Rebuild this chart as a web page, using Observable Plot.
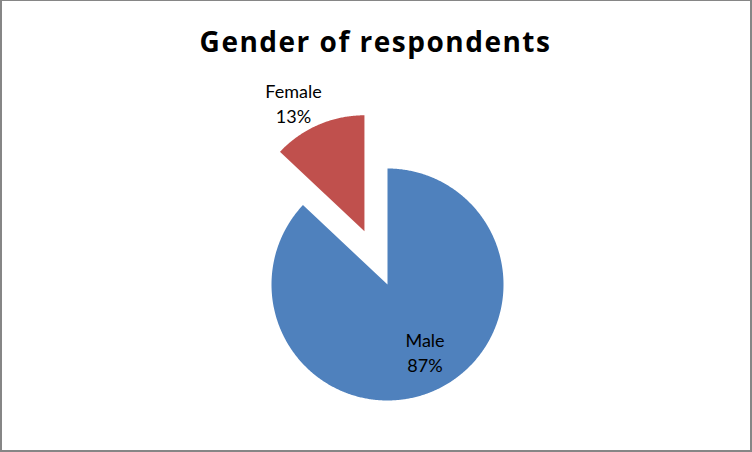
<!DOCTYPE html>
<html><head><meta charset="utf-8">
<script src="https://cdn.jsdelivr.net/npm/d3@7"></script>
<script src="https://cdn.jsdelivr.net/npm/@observablehq/plot@0.6"></script>
<style>
body{margin:0;background:#fff;}
#chart{width:752px;height:452px;box-sizing:border-box;border-style:solid;border-color:#868686;border-width:1px 2px 2px 2px;overflow:hidden;background:#fff;}
#chart svg{display:block;}
</style></head><body><div id="chart"></div>
<script>
const categories = ["Male", "Female"];
const values = [87, 13];
const colors = ["#4F81BD", "#C0504D"];
const title = "Gender of respondents";

// layout (pixels / unit-radius factors)
const W = 748, H = 449;
const cx = 385, cy = 283, R = 116;
const explode = [0, 0.5];
const labelRadial = [0.671, 1.248];
const labelTangent = [-0.062, -0.127];

const total = d3.sum(values);
let acc = 0;
const slices = categories.map((c, i) => {
  const a0 = acc / total * 2 * Math.PI; acc += values[i];
  const a1 = acc / total * 2 * Math.PI;
  return {c, i, a0, a1, mid: (a0 + a1) / 2, v: values[i]};
});
const pts = [];
const labels = [];
slices.forEach(s => {
  const ox = explode[s.i] * Math.sin(s.mid), oy = explode[s.i] * Math.cos(s.mid);
  pts.push({c: s.c, x: ox, y: oy});
  const n = Math.max(2, Math.ceil((s.a1 - s.a0) / (Math.PI / 360)));
  for (let k = 0; k <= n; k++) {
    const a = s.a0 + (s.a1 - s.a0) * k / n;
    pts.push({c: s.c, x: ox + Math.sin(a), y: oy + Math.cos(a)});
  }
  pts.push({c: s.c, x: ox, y: oy});
  const dx = Math.sin(s.mid), dy = Math.cos(s.mid);
  const px = Math.cos(s.mid), py = -Math.sin(s.mid);
  labels.push({
    c: s.c,
    text: `${s.c}\n${s.v}%`,
    x: ox + dx * labelRadial[s.i] + px * labelTangent[s.i],
    y: oy + dy * labelRadial[s.i] + py * labelTangent[s.i]
  });
});

const chart = Plot.plot({
  width: W, height: H,
  margin: 0,
  x: {domain: [-cx / R, (W - cx) / R], range: [0, W], axis: null},
  y: {domain: [-(H - cy) / R, cy / R], range: [H, 0], axis: null},
  color: {domain: categories, range: colors},
  style: {fontFamily: "Lato, sans-serif", background: "#fff"},
  marks: [
    Plot.line(pts, {x: "x", y: "y", z: "c", fill: "c", stroke: null, curve: "linear"}),
    Plot.text(labels, {x: "x", y: "y", dy: -2, text: "text", fontSize: 18, lineHeight: 1.4, lineAnchor: "middle", fill: "#000"}),
    Plot.text([title], {frameAnchor: "top", dx: -1, dy: 50, lineAnchor: "bottom", fontSize: 28, fontWeight: "bold", fill: "#000"})
  ]
});
d3.select(chart).selectAll("text").filter(function() { return this.textContent === title; })
  .style("font-family", "'Open Sans', sans-serif").style("letter-spacing", "1.5px");
document.getElementById("chart").appendChild(chart);
</script></body></html>
